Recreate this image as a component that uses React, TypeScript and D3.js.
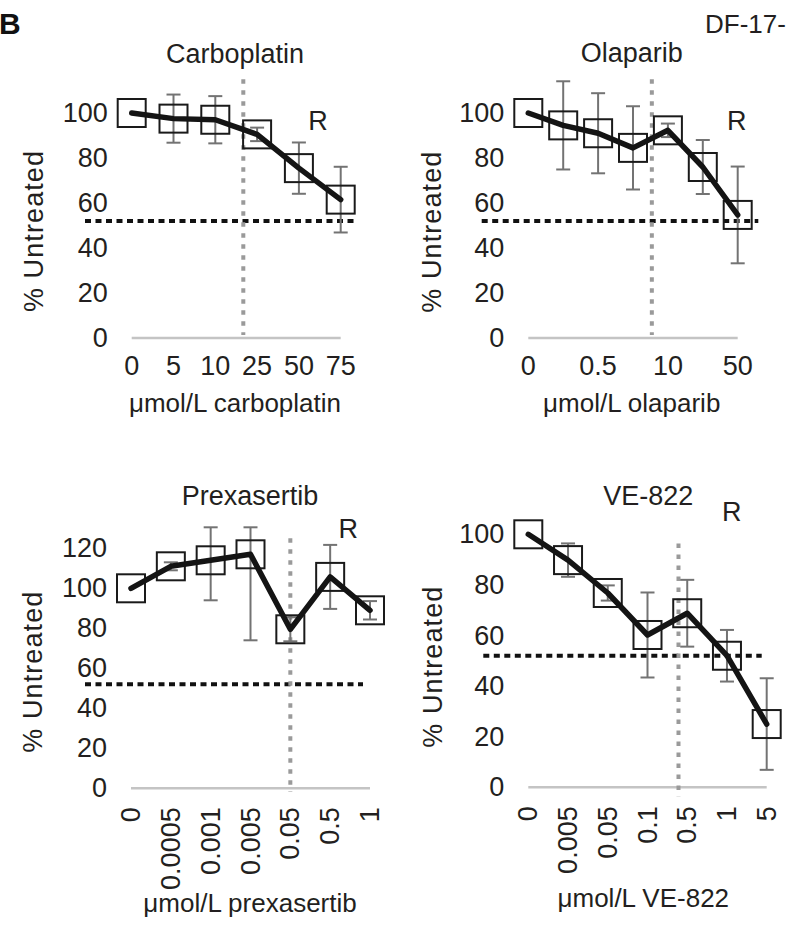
import React from "react";
import * as d3 from "d3";

// ---------- data ----------
const carboplatinDoses = ["0", "5", "10", "25", "50", "75"];
const carboplatinMean = [100, 97.5, 97, 90.5, 75.5, 61.5];
const carboplatinErr = [0, 10.7, 10.5, 3, 11.4, 14.6];

const olaparibDoses = ["0", "0.1", "0.5", "1", "10", "25", "50"];
const olaparibMean = [100, 94.5, 91, 84.5, 92.3, 76, 54.7];
const olaparibErr = [0, 19.6, 17.8, 18.5, 3, 12, 21.5];

const prexasertibDoses = ["0", "0.0005", "0.001", "0.005", "0.05", "0.5", "1"];
const prexasertibMean = [100, 111, 114, 117, 79.5, 105.7, 89];
const prexasertibErr = [0, 2, 20, 43, 6, 16, 4.6];

const ve822Doses = ["0", "0.005", "0.05", "0.1", "0.5", "1", "5"];
const ve822Mean = [100, 89.8, 76.8, 60.2, 68.8, 52, 25];
const ve822Err = [0, 6.6, 3, 16.8, 13.2, 10.2, 18.1];

const yTicks100 = [0, 20, 40, 60, 80, 100];
const yTicks120 = [0, 20, 40, 60, 80, 100, 120];
const ic50Index = [2.67, 3.54, 4.0, 3.78];
const thresholdPct = 52;

// ---------- layout ----------
const FONT = "'Liberation Sans', Arial, Helvetica, sans-serif";
const TEXT = "#231f20";

type Panel = {
  title: string;
  xLabel: string;
  doses: string[];
  mean: number[];
  err: number[];
  ticks: number[];
  yMax: number;
  clipMax: number;
  x0: number;
  x1: number;
  yBottom: number;
  yTop: number;
  rotate: boolean;
  labelEvery: number;
  titlePos: [number, number];
  xLabelPos: [number, number];
  yLabelPos: [number, number];
  rPos: [number, number];
  ic50: number;
  vTop: number;
  vBottom: number;
  hLeft: number;
  hRight: number;
};

const panels: Panel[] = [
  {
    title: "Carboplatin", xLabel: "μmol/L carboplatin",
    doses: carboplatinDoses, mean: carboplatinMean, err: carboplatinErr,
    ticks: yTicks100, yMax: 100, clipMax: 1000,
    x0: 131.7, x1: 340.7, yBottom: 338, yTop: 113, rotate: false, labelEvery: 1,
    titlePos: [235, 62.7], xLabelPos: [235, 412], yLabelPos: [34, 231], rPos: [318, 130],
    ic50: ic50Index[0], vTop: 115, vBottom: 1.3, hLeft: -46.7, hRight: 16,
  },
  {
    title: "Olaparib", xLabel: "μmol/L olaparib",
    doses: olaparibDoses, mean: olaparibMean, err: olaparibErr,
    ticks: yTicks100, yMax: 100, clipMax: 1000,
    x0: 528.3, x1: 737.7, yBottom: 338, yTop: 113, rotate: false, labelEvery: 2,
    titlePos: [631.7, 61.7], xLabelPos: [631.7, 411.7], yLabelPos: [431.7, 231.7], rPos: [736.7, 130],
    ic50: ic50Index[1], vTop: 115, vBottom: 1.3, hLeft: -46.6, hRight: 20.6,
  },
  {
    title: "Prexasertib", xLabel: "μmol/L prexasertib",
    doses: prexasertibDoses, mean: prexasertibMean, err: prexasertibErr,
    ticks: yTicks120, yMax: 120, clipMax: 130.5,
    x0: 131, x1: 370, yBottom: 788.3, yTop: 548.3, rotate: true, labelEvery: 1,
    titlePos: [250, 505], xLabelPos: [250, 911.7], yLabelPos: [33, 671.7], rPos: [348.3, 538.3],
    ic50: ic50Index[2], vTop: 125, vBottom: -1.7, hLeft: -46, hRight: -7,
  },
  {
    title: "VE-822", xLabel: "μmol/L VE-822",
    doses: ve822Doses, mean: ve822Mean, err: ve822Err,
    ticks: yTicks100, yMax: 100, clipMax: 1000,
    x0: 528.3, x1: 766.7, yBottom: 787.3, yTop: 534.3, rotate: true, labelEvery: 1,
    titlePos: [648.3, 505], xLabelPos: [643.3, 906.7], yLabelPos: [433.3, 666.7], rPos: [731.7, 520.7],
    ic50: ic50Index[3], vTop: 96.4, vBottom: -3.7, hLeft: -45, hRight: -5,
  },
];

const SQ = 28;
const CAP = 14;
const FS_TICK = 27;
const FS_TITLE = 27;
const FS_XLAB = 26;
const FS_YLAB = 27;

function PanelView({ p }: { p: Panel }) {
  const x = d3.scalePoint<string>().domain(p.doses).range([p.x0, p.x1]).padding(0);
  const y = d3.scaleLinear().domain([0, p.yMax]).range([p.yBottom, p.yTop]);
  const step = x.step();
  const pts: [number, number][] = p.doses.map((d, i) => [x(d) as number, y(p.mean[i])]);
  const line = d3.line().curve(d3.curveLinear)(pts) as string;
  const xIc = p.x0 + p.ic50 * step;

  return (
    <g>
      <text x={p.titlePos[0]} y={p.titlePos[1]} textAnchor="middle" fontSize={FS_TITLE} fill={TEXT}>
        {p.title}
      </text>
      {p.ticks.map((t) => (
        <text key={t} x={p.x0 - 24} y={y(t)} textAnchor="end" dominantBaseline="central" fontSize={FS_TICK} fill={TEXT}>
          {t}
        </text>
      ))}
      <text
        transform={`translate(${p.yLabelPos[0]},${p.yLabelPos[1]}) rotate(-90)`}
        textAnchor="middle" dominantBaseline="central" fontSize={FS_YLAB} letterSpacing={1.1} fill={TEXT}
      >
        % Untreated
      </text>
      <line x1={p.x0} x2={p.x1} y1={y(0)} y2={y(0)} stroke="#c4c4c4" strokeWidth={2.5} />
      {p.doses.map((d, i) =>
        i % p.labelEvery !== 0 ? null : p.rotate ? (
          <text key={d} transform={`translate(${x(d)},${y(0) + 19}) rotate(-90)`} textAnchor="end"
            dominantBaseline="central" fontSize={FS_TICK} fill={TEXT}>
            {d}
          </text>
        ) : (
          <text key={d} x={x(d)} y={y(0) + 37} textAnchor="middle" fontSize={FS_TICK} fill={TEXT}>
            {d}
          </text>
        )
      )}
      <text x={p.xLabelPos[0]} y={p.xLabelPos[1]} textAnchor="middle" fontSize={FS_XLAB} fill={TEXT}>
        {p.xLabel}
      </text>
      <line x1={p.x0 + p.hLeft} x2={p.x1 + p.hRight} y1={y(thresholdPct)} y2={y(thresholdPct)}
        stroke="#111" strokeWidth={4} strokeDasharray="6 4.5" />
      <line x1={xIc} x2={xIc} y1={y(p.vTop)} y2={y(p.vBottom)} stroke="#9a9a9a" strokeWidth={4}
        strokeDasharray="4.5 6.5" />
      {p.doses.map((d, i) => {
        if (!p.err[i]) return null;
        const cx = x(d) as number;
        const hi = Math.min(p.mean[i] + p.err[i], p.clipMax);
        const lo = p.mean[i] - p.err[i];
        return (
          <g key={"e" + d} stroke="#737373" strokeWidth={2}>
            <line x1={cx} x2={cx} y1={y(hi)} y2={y(lo)} />
            <line x1={cx - CAP / 2} x2={cx + CAP / 2} y1={y(hi)} y2={y(hi)} />
            <line x1={cx - CAP / 2} x2={cx + CAP / 2} y1={y(lo)} y2={y(lo)} />
          </g>
        );
      })}
      {pts.map(([cx, cy], i) => (
        <rect key={"s" + i} x={cx - SQ / 2} y={cy - SQ / 2} width={SQ} height={SQ}
          fill="none" stroke="#1a1a1a" strokeWidth={2} />
      ))}
      <path d={line} fill="none" stroke="#141414" strokeWidth={5.5} strokeLinejoin="round" strokeLinecap="round" />
      <text x={p.rPos[0]} y={p.rPos[1]} textAnchor="middle" fontSize={FS_TICK} fill={TEXT}>
        R
      </text>
    </g>
  );
}

export default function App() {
  return (
    <svg
      width={797}
      height={935}
      viewBox="0 0 797 935"
      style={{ position: "absolute", left: 0, top: 0, background: "#fff", fontFamily: FONT }}
    >
      <rect width={797} height={935} fill="#fff" />
      <text x={-1} y={34} fontSize={30} fontWeight="bold" fill="#111">B</text>
      <text x={705} y={33} fontSize={26} fill={TEXT}>DF-17-</text>
      {panels.map((p) => (
        <PanelView key={p.title} p={p} />
      ))}
    </svg>
  );
}
